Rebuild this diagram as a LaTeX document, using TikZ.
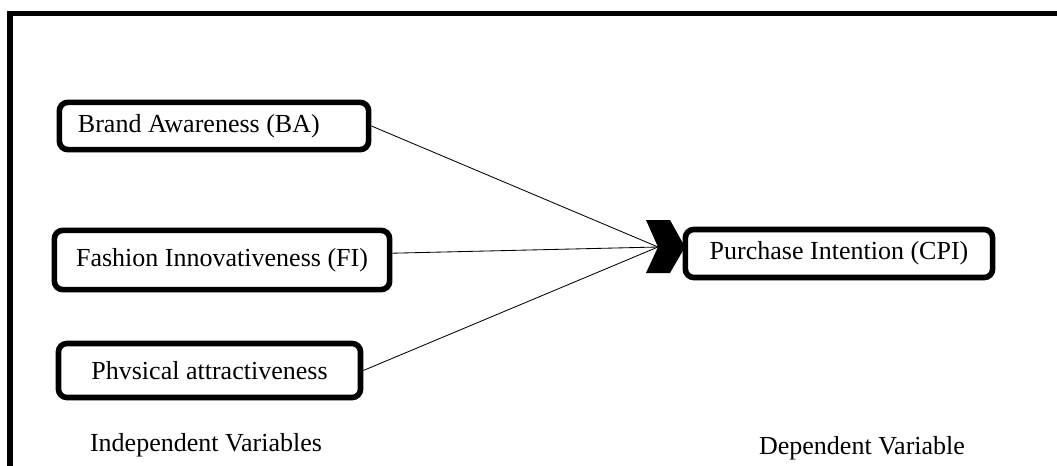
\documentclass[tikz,border=0pt]{standalone}
\usepackage{fontspec}
\setmainfont{Liberation Serif}
\usetikzlibrary{positioning}
\tikzset{>=stealth}
\tikzset{
  varbox/.style={draw, line width=4pt, rounded corners=6pt, fill=white, inner sep=0pt},
  link/.style={line width=0.6pt},
}

\begin{document}
\begin{tikzpicture}[x=0.025cm, y=-0.025cm, font=\fontsize{18.5}{22}\selectfont]
\useasboundingbox (0,0) rectangle (1057,466);
\draw[line width=3.8pt](10,470)--(10,13.5)--(1060,13.5);

\node[varbox, minimum width=7.73cm, minimum height=1.18cm, text width=6.8cm, align=flush left] (ba) at (214,126) {Brand Awareness (BA)};
\node[varbox, minimum width=8.38cm, minimum height=1.48cm] (fi) at (222,260) {Fashion Innovativeness (FI)};
\node[varbox, minimum width=7.55cm, minimum height=1.35cm] (pa) at (209.5,370.5) {Phvsical attractiveness};
\node[varbox, minimum width=7.68cm, minimum height=1.2cm] (cpi) at (839,253.5) {Purchase Intention (CPI)};

\coordinate (tip) at (658,247);
\draw[link](ba.east)--(tip);
\draw[link]([yshift=0.17cm]fi.east)--(tip);
\draw[link](pa.east)--(tip);
\fill (tip)--++(-12,-27)--++(24,0)--++(15,27)--++(-15,26)--++(-24,0)--cycle;

\node (indep) at (206,445) {Independent Variables};
\node (dep) at (862,448) {Dependent Variable};

    \end{tikzpicture}
\end{document}
